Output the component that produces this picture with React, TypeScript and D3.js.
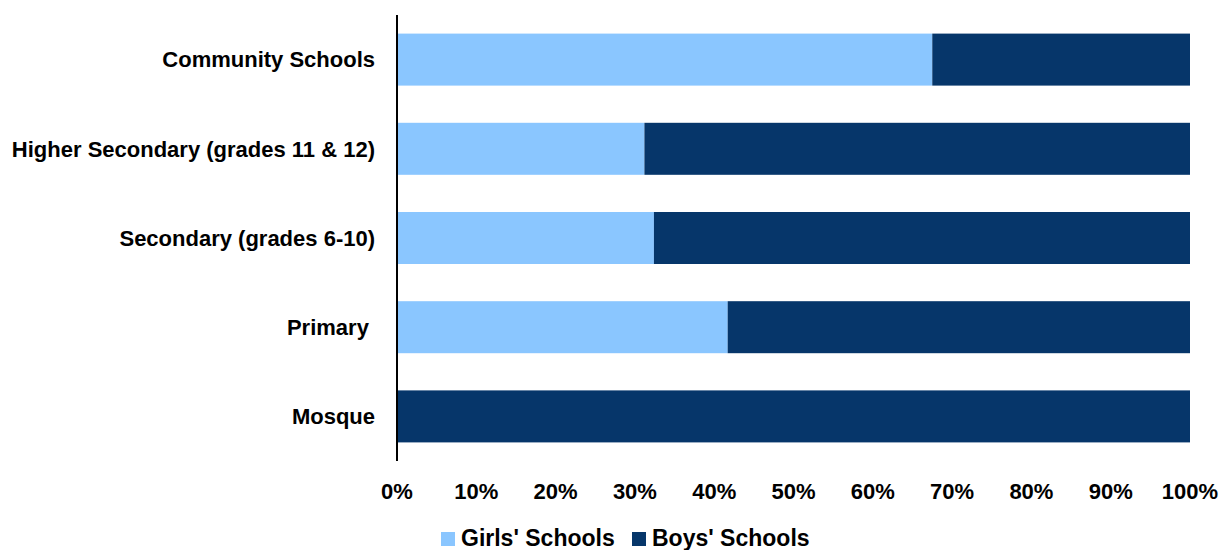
import React from "react";
import * as d3 from "d3";

const categories = ["Community Schools", "Higher Secondary (grades 11 & 12)", "Secondary (grades 6-10)", "Primary ", "Mosque"];
const girls = [67.5, 31.2, 32.4, 41.7, 0];
const boys = [32.5, 68.8, 67.6, 58.3, 100];
const seriesNames = ["Girls' Schools", "Boys' Schools"];
const colors = ["#8AC6FF", "#06366A"];
const xTicks = [0, 10, 20, 30, 40, 50, 60, 70, 80, 90, 100];

const W = 1222, H = 550;
const FONT = "'Liberation Sans', Arial, sans-serif";

export default function App() {
  const x = d3.scaleLinear().domain([0, 100]).range([397, 1190]);
  const y = d3.scaleBand<string>().domain(categories).range([15, 461]).paddingInner(0.417).paddingOuter(0.2085);
  const stack = d3.stack<any>().keys(["g", "b"]);
  const rows = categories.map((c, i) => ({ c, g: girls[i], b: boys[i] }));
  const layers = stack(rows);
  return (
    <svg width={W} height={H} style={{ position: "absolute", left: 0, top: 0, background: "#fff" }}>
      {layers.map((layer, li) => (
        <g key={li} fill={colors[li]}>
          {layer.map((d, i) => (
            <rect key={i} x={x(d[0])} y={y(categories[i])} width={x(d[1]) - x(d[0])} height={y.bandwidth()} />
          ))}
        </g>
      ))}
      <line x1={397} x2={397} y1={15} y2={461} stroke="#000" strokeWidth={2} />
      {categories.map((c) => (
        <text key={c} x={375} y={y(c)! + y.bandwidth() / 2} dy="0.35em" textAnchor="end" fontFamily={FONT} fontWeight="bold" fontSize={22} fill="#000" style={{ whiteSpace: "pre" }}>{c}</text>
      ))}
      {xTicks.map((t) => (
        <text key={t} x={x(t)} y={491} dy="0.35em" textAnchor="middle" fontFamily={FONT} fontWeight="bold" fontSize={22} fill="#000">{t}%</text>
      ))}
      <g>
        <rect x={441} y={532} width={14} height={14} fill={colors[0]} />
        <text x={461} y={538} dy="0.35em" fontFamily={FONT} fontWeight="bold" fontSize={23} fill="#000">{seriesNames[0]}</text>
        <rect x={632} y={532} width={14} height={14} fill={colors[1]} />
        <text x={652} y={538} dy="0.35em" fontFamily={FONT} fontWeight="bold" fontSize={23} fill="#000">{seriesNames[1]}</text>
      </g>
    </svg>
  );
}
